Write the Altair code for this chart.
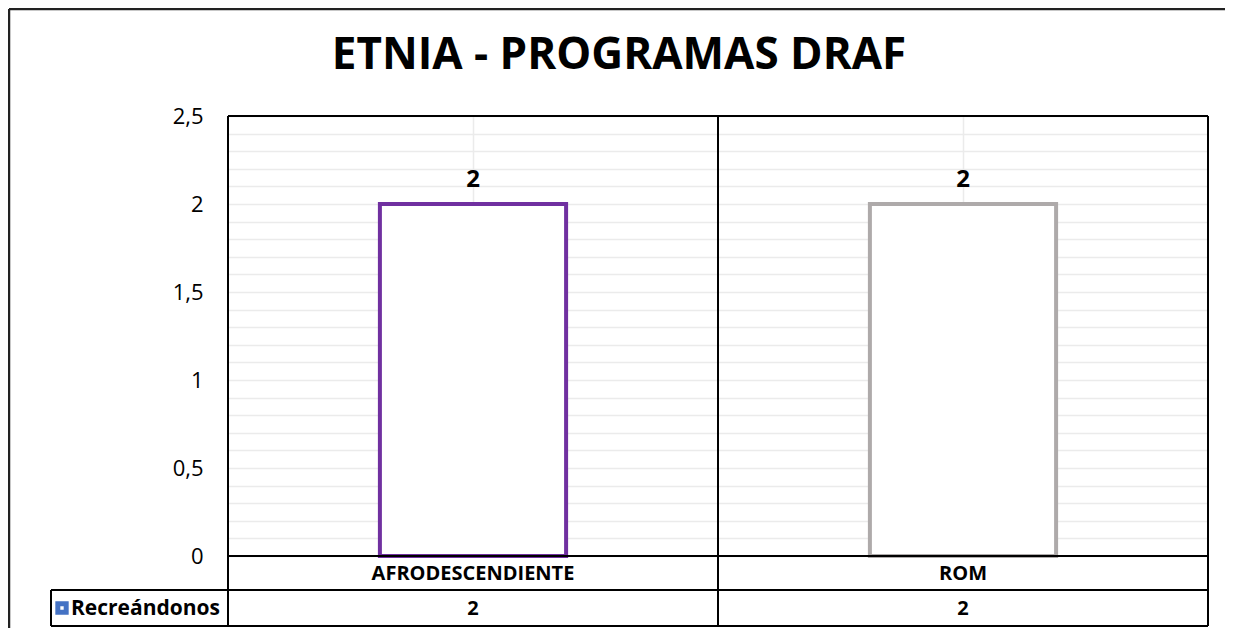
import altair as alt
import pandas as pd

# ---- data ----
categories = ["AFRODESCENDIENTE", "ROM"]
values = [2, 2]
bar_colors = ["#7030A0", "#AEAAAA"]
series_name = "Recreándonos"
chart_title = "ETNIA - PROGRAMAS DRAF"
y_ticks = [0, 0.1, 0.2, 0.3, 0.4, 0.5, 0.6, 0.7, 0.8, 0.9, 1.0, 1.1, 1.2, 1.3,
           1.4, 1.5, 1.6, 1.7, 1.8, 1.9, 2.0, 2.1, 2.2, 2.3, 2.4, 2.5]

FONT = "Open Sans"
W, H = 980, 440
ROW1 = 34   # category row height
ROW2 = 36   # value row height
LEG_X = -177

df = pd.DataFrame({"cat": categories, "val": values,
                   "label": [str(v) for v in values]})
one = pd.DataFrame({"a": [0]})

xscale = alt.Scale(domain=categories, paddingInner=0.62, paddingOuter=0.31)
yscale = alt.Scale(domain=[0, 2.5], nice=False, zero=True)

label_expr = ("abs(datum.value*2 - round(datum.value*2)) < 0.001 ? "
              "replace(format(datum.value, '~g'), '.', ',') : ''")

x_axis = alt.Axis(labels=False, ticks=False, domain=False, title=None,
                  grid=True, gridColor="#ebebeb", gridWidth=1.5, bandPosition=0.5)
y_axis = alt.Axis(values=y_ticks, grid=True, gridColor="#ebebeb",
                  gridWidth=1.5, ticks=False, domain=False, title=None,
                  labelExpr=label_expr, labelFont=FONT, labelFontSize=22,
                  labelColor="black", labelPadding=25, labelOverlap=False,
                  labelFlush=False, tickCount=26)


def xe():
    return alt.X("cat:N", scale=xscale, sort=categories, axis=x_axis)


def ye():
    return alt.Y("val:Q", scale=yscale, axis=y_axis)


bars = alt.Chart(df).mark_bar(fill="white", strokeWidth=4).encode(
    x=xe(), y=ye(),
    stroke=alt.Stroke("cat:N", scale=alt.Scale(domain=categories, range=bar_colors),
                      legend=None),
)

bar_labels = alt.Chart(df).mark_text(font=FONT, fontSize=24, fontWeight="bold",
                                     baseline="bottom", dy=-12, color="black").encode(
    x=xe(), y=ye(), text="label:N")

cat_row = alt.Chart(df).mark_text(font=FONT, fontSize=20, fontWeight="bold",
                                  baseline="middle", color="black").encode(
    x=xe(), y=alt.value(H + ROW1 / 2 + 1), text="cat:N")

val_row = alt.Chart(df).mark_text(font=FONT, fontSize=20, fontWeight="bold",
                                  baseline="middle", color="black").encode(
    x=xe(), y=alt.value(H + ROW1 + ROW2 / 2 + 1), text="label:N")


def hline(y, x1, x2, color="black", w=2):
    return alt.Chart(one).mark_rule(color=color, strokeWidth=w).encode(
        x=alt.value(x1), x2=alt.value(x2), y=alt.value(y))


def vline(x, y1, y2, color="black", w=2):
    return alt.Chart(one).mark_rule(color=color, strokeWidth=w).encode(
        x=alt.value(x), y=alt.value(y1), y2=alt.value(y2))


bottom = H + ROW1 + ROW2
frame = [
    hline(0, 0, W),
    hline(H, 0, W),
    hline(H + ROW1, LEG_X, W),
    hline(bottom, LEG_X, W),
    vline(0, 0, bottom),
    vline(W, 0, bottom),
    vline(W / 2, 0, bottom),
    vline(LEG_X, H + ROW1, bottom),
    # outer chart border (top / left)
    hline(-107, -219, W + 17, color="#222222", w=2.5),
    vline(-219, -107, bottom + 10, color="#222222", w=2.5),
]

legend_icon = alt.Chart(one).mark_square(size=70, fill="white", stroke="#4472C4",
                                         strokeWidth=5, opacity=1).encode(
    x=alt.value(LEG_X + 11), y=alt.value(H + ROW1 + ROW2 / 2))
legend_text = alt.Chart(pd.DataFrame({"t": [series_name]})).mark_text(
    font=FONT, fontSize=21, fontWeight="bold", align="left", baseline="middle",
    color="black").encode(x=alt.value(LEG_X + 20), y=alt.value(H + ROW1 + ROW2 / 2 + 1),
                          text="t:N")

title = alt.Chart(pd.DataFrame({"t": [chart_title]})).mark_text(
    font=FONT, fontSize=44, fontWeight="bold", align="center", baseline="middle",
    color="black").encode(x=alt.value(391), y=alt.value(-60), text="t:N")

chart = alt.layer(bars, bar_labels, cat_row, val_row, *frame, legend_icon,
                  legend_text, title).properties(
    width=W, height=H,
    padding={"left": 220, "top": 108, "right": 17, "bottom": 72},
    autosize=alt.AutoSizeParams(type="none"),
).configure_view(stroke=None).configure(background="white")

chart.save("out.html", embed_options={"renderer": "svg", "actions": False})
